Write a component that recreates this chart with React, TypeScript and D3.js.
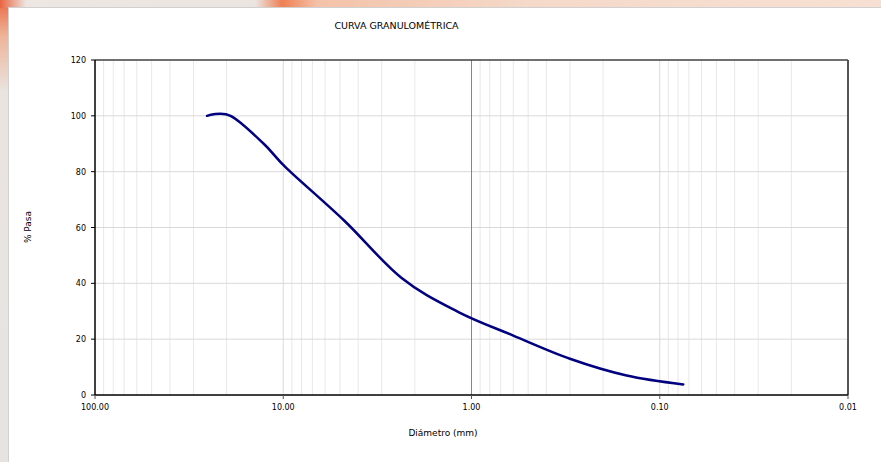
import React from "react";
import * as d3 from "d3";

const sieveSizes = [25.4, 19.05, 12.7, 9.525, 4.75, 2.36, 1.18, 0.6, 0.3, 0.15, 0.075];
const percentPassing = [100, 100, 90, 81, 62.5, 42, 29.8, 21.3, 13, 7, 3.8];
const xTickValues = [100, 10, 1, 0.1, 0.01];
const xTickLabels = ["100.00", "10.00", "1.00", "0.10", "0.01"];
const yTickValues = [0, 20, 40, 60, 80, 100, 120];

const W = 881;
const H = 462;
const L = 95, R = 848, T = 60, B = 395;
const FONT = "'DejaVu Sans', Verdana, sans-serif";

export default function App() {
  const x = d3.scaleLog().domain([100, 0.01]).range([L, R]);
  const y = d3.scaleLinear().domain([0, 120]).range([B, T]);

  const minor: number[] = [];
  [-2, -1, 0, 1].forEach((k) => {
    for (let m = 2; m <= 9; m++) minor.push(m * Math.pow(10, k));
  });

  const pts = sieveSizes.map((d, i) => [x(d), y(percentPassing[i])] as [number, number]);
  const line = d3.line().curve(d3.curveCardinal.tension(0))(pts) || "";

  return (
    <svg width={W} height={H} style={{ position: "absolute", left: 0, top: 0 }}>
      <defs>
        <linearGradient id="topg" x1="0" x2="1" y1="0" y2="0">
          <stop offset="0" stopColor="#e9643f" />
          <stop offset="0.03" stopColor="#ece7e3" />
          <stop offset="0.29" stopColor="#ebe5e1" />
          <stop offset="0.32" stopColor="#ee7f52" />
          <stop offset="0.36" stopColor="#f3c2a8" />
          <stop offset="0.6" stopColor="#f5d9c9" />
          <stop offset="1" stopColor="#f7e0d3" />
        </linearGradient>
        <linearGradient id="leftg" x1="0" x2="0" y1="0" y2="1">
          <stop offset="0" stopColor="#ea6a43" />
          <stop offset="0.08" stopColor="#eeb59a" />
          <stop offset="0.2" stopColor="#e9e4e0" />
          <stop offset="1" stopColor="#e6e3e0" />
        </linearGradient>
      </defs>
      <rect x={0} y={0} width={W} height={H} fill="url(#leftg)" />
      <rect x={0} y={0} width={W} height={8} fill="url(#topg)" />
      <rect x={8.5} y={7.5} width={W} height={H} fill="#ffffff" stroke="#d0d0d0" strokeWidth={1} />

      <text x={396.5} y={29} fontFamily={FONT} fontSize={9.5} textAnchor="middle" fill="#000">
        CURVA GRANULOMÉTRICA
      </text>

      {minor.map((v, i) => (
        <line key={"mn" + i} x1={x(v)} x2={x(v)} y1={T} y2={B} stroke="#e8e8e8" strokeWidth={1} />
      ))}
      {[10, 0.1].map((v, i) => (
        <line key={"mj" + i} x1={x(v)} x2={x(v)} y1={T} y2={B} stroke="#d9d9d9" strokeWidth={1} />
      ))}
      {yTickValues.filter((v) => v > 0 && v < 120).map((v, i) => (
        <line key={"hg" + i} x1={L} x2={R} y1={y(v)} y2={y(v)} stroke="#d9d9d9" strokeWidth={1} />
      ))}
      <line x1={x(1)} x2={x(1)} y1={T} y2={B + 4} stroke="#868686" strokeWidth={1} />

      <line x1={L} x2={R} y1={T} y2={T} stroke="#404040" strokeWidth={1.5} />
      <line x1={R} x2={R} y1={T} y2={B} stroke="#555555" strokeWidth={2} />
      <line x1={L} x2={L} y1={T} y2={B} stroke="#000" strokeWidth={1.5} />
      <line x1={L} x2={R} y1={B} y2={B} stroke="#000" strokeWidth={1.5} />

      {yTickValues.map((v) => (
        <g key={"yt" + v}>
          <line x1={L - 4} x2={L} y1={y(v)} y2={y(v)} stroke="#000" strokeWidth={1} />
          <text x={86} y={y(v) + 3} fontFamily={FONT} fontSize={8} textAnchor="end" fill="#000">
            {v}
          </text>
        </g>
      ))}
      {xTickValues.map((v, i) => (
        <g key={"xt" + i}>
          <line x1={x(v)} x2={x(v)} y1={B} y2={B + 4} stroke="#555" strokeWidth={1} />
          <text x={x(v)} y={410} fontFamily={FONT} fontSize={8} textAnchor="middle" fill="#000">
            {xTickLabels[i]}
          </text>
        </g>
      ))}

      <path d={line} fill="none" stroke="#000080" strokeWidth={2.5} strokeLinejoin="round" strokeLinecap="round" />

      <text x={443} y={436} fontFamily={FONT} fontSize={9} textAnchor="middle" fill="#000">
        Diámetro (mm)
      </text>
      <text
        transform={`translate(31,227) rotate(-90)`}
        fontFamily={FONT}
        fontSize={9}
        textAnchor="middle"
        fill="#000"
      >
        % Pasa
      </text>
    </svg>
  );
}
